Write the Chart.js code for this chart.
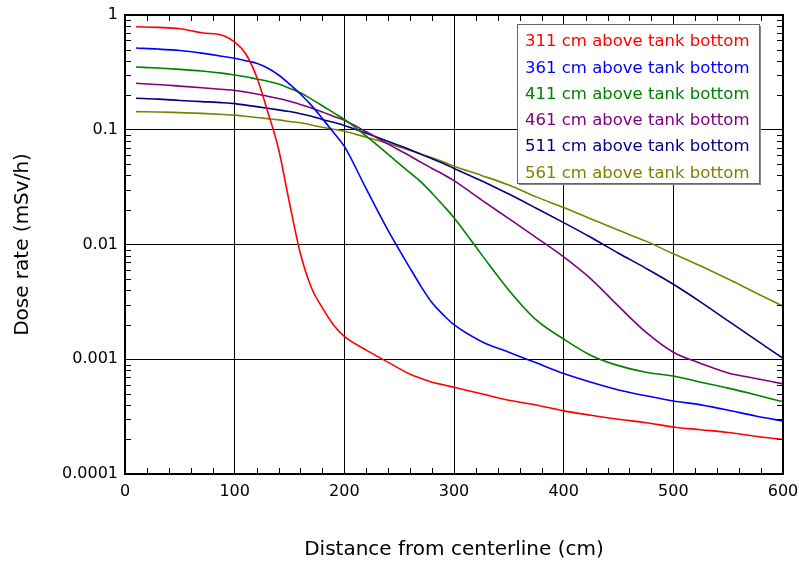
<!DOCTYPE html>
<html>
<head>
<meta charset="utf-8">
<script src="https://cdn.jsdelivr.net/npm/chart.js@4/dist/chart.umd.min.js"></script>
<style>
html,body{margin:0;padding:0;background:#fff;}
#wrap{width:799px;height:563px;}
</style>
</head>
<body>
<div id="wrap"><canvas id="c" width="799" height="563"></canvas></div>
<script>
const FONT = "'DejaVu Sans', sans-serif";
const distances = [10,30,50,70,90,100,110,120,130,140,150,160,170,180,190,200,220,240,260,270,280,290,300,325,350,375,400,425,450,475,500,525,550,575,600];
const seriesLabels = ["311 cm above tank bottom","361 cm above tank bottom","411 cm above tank bottom","461 cm above tank bottom","511 cm above tank bottom","561 cm above tank bottom"];
const seriesColors = ["#ff0000","#0000ff","#008000","#800080","#000080","#808000"];
const dose311 = [0.79,0.78,0.76,0.70,0.66,0.58,0.46,0.29,0.145,0.068,0.023,0.0083,0.0042,0.0028,0.002,0.00158,0.0012,0.00094,0.00074,0.00068,0.00063,0.0006,0.00057,0.0005,0.00044,0.0004,0.000355,0.000325,0.0003,0.00028,0.000257,0.000243,0.00023,0.000213,0.0002];
const dose361 = [0.515,0.505,0.49,0.465,0.435,0.42,0.40,0.38,0.345,0.30,0.25,0.205,0.163,0.125,0.095,0.0716,0.0305,0.0132,0.0062,0.0043,0.0031,0.00245,0.002,0.00143,0.00115,0.00093,0.00075,0.00063,0.00054,0.00048,0.000433,0.0004,0.00036,0.00032,0.00029];
const dose411 = [0.352,0.345,0.336,0.325,0.31,0.30,0.29,0.277,0.265,0.25,0.23,0.21,0.185,0.162,0.141,0.123,0.088,0.061,0.042,0.035,0.028,0.022,0.0171,0.0082,0.004,0.0022,0.0015,0.00108,0.00088,0.00077,0.000714,0.00063,0.00056,0.00049,0.000426];
const dose461 = [0.254,0.248,0.24,0.232,0.224,0.22,0.213,0.205,0.196,0.187,0.177,0.166,0.155,0.143,0.131,0.121,0.096,0.075,0.059,0.052,0.046,0.041,0.036,0.0245,0.0168,0.0115,0.0078,0.005,0.0029,0.00172,0.00115,0.00092,0.00076,0.00068,0.00061];
const dose511 = [0.188,0.185,0.18,0.176,0.172,0.169,0.164,0.159,0.154,0.149,0.144,0.138,0.131,0.123,0.116,0.109,0.093,0.079,0.067,0.061,0.056,0.051,0.046,0.036,0.0275,0.0207,0.0155,0.0115,0.0084,0.0062,0.0045,0.00315,0.00216,0.00148,0.00102];
const dose561 = [0.144,0.143,0.141,0.139,0.136,0.134,0.131,0.128,0.125,0.122,0.118,0.115,0.11,0.105,0.101,0.097,0.086,0.076,0.066,0.0615,0.057,0.0525,0.048,0.04,0.033,0.026,0.021,0.0167,0.0133,0.0107,0.0083,0.0065,0.005,0.0038,0.0029];
const yTickValues = [0.0001,0.001,0.01,0.1,1];
const yTickLabels = ["0.0001","0.001","0.01","0.1","1"];
const xTickValues = [0,100,200,300,400,500,600];
const allSeries = [dose311,dose361,dose411,dose461,dose511,dose561];

const datasets = allSeries.map((s,i)=>({
  label: seriesLabels[i],
  data: distances.map((d,j)=>({x:d,y:s[j]})),
  borderColor: seriesColors[i],
  backgroundColor: seriesColors[i],
  borderWidth: 1.6,
  pointRadius: 0,
  cubicInterpolationMode: 'monotone',
  fill: false
}));

const framePlugin = {
  id:'frame',
  afterDraw(chart){
    const {ctx, chartArea:a, scales:{x,y}} = chart;
    ctx.save();
    ctx.strokeStyle = '#000';
    ctx.lineWidth = 1;
    for(let v=0; v<=600; v+=20){
      if(v%100===0) continue;
      const px = Math.round(x.getPixelForValue(v))+0.5;
      ctx.beginPath();
      ctx.moveTo(px,a.bottom); ctx.lineTo(px,a.bottom-6);
      ctx.moveTo(px,a.top); ctx.lineTo(px,a.top+6);
      ctx.stroke();
    }
    for(let e=-4;e<0;e++){
      for(let m=2;m<=9;m++){
        const py = Math.round(y.getPixelForValue(m*Math.pow(10,e)))+0.5;
        ctx.beginPath();
        ctx.moveTo(a.left,py); ctx.lineTo(a.left+6,py);
        ctx.moveTo(a.right,py); ctx.lineTo(a.right-6,py);
        ctx.stroke();
      }
    }
    ctx.lineWidth = 2;
    ctx.strokeRect(a.left, a.top, a.right-a.left, a.bottom-a.top);
    // legend box
    const lx=517, ly=24, lw=242, lh=159;
    ctx.fillStyle='#888';
    ctx.fillRect(lx+2, ly+2, lw, lh);
    ctx.fillStyle='#fff';
    ctx.fillRect(lx, ly, lw, lh);
    ctx.lineWidth=1;
    ctx.strokeStyle='#666';
    ctx.strokeRect(lx+0.5, ly+0.5, lw, lh);
    ctx.font = "16.5px " + FONT;
    ctx.textBaseline='middle';
    ctx.textAlign='left';
    chart.data.datasets.forEach((ds,i)=>{
      ctx.fillStyle = ds.borderColor;
      ctx.fillText(ds.label, 525, 42 + i*26.3);
    });
    ctx.restore();
  }
};

new Chart(document.getElementById('c'), {
  type:'line',
  data:{datasets},
  options:{
    responsive:false,
    animation:false,
    devicePixelRatio:1,
    layout:{padding:{left:0,right:16,top:15,bottom:0}},
    plugins:{legend:{display:false}, tooltip:{enabled:false}},
    scales:{
      x:{
        type:'linear', min:0, max:600,
        afterBuildTicks(s){ s.ticks = xTickValues.map(v=>({value:v})); },
        afterFit(s){ s.height = 89; s.paddingLeft = 0; s.paddingRight = 0; },
        ticks:{color:'#000', font:{family:FONT,size:16}, padding:8, maxRotation:0},
        grid:{color:'#000', lineWidth:1, drawTicks:false},
        border:{display:false},
        title:{display:true, text:'Distance from centerline (cm)', color:'#000', font:{family:FONT,size:20}, padding:{top:0,bottom:1}}
      },
      y:{
        type:'logarithmic', min:0.0001, max:1,
        afterBuildTicks(s){ s.ticks = yTickValues.map(v=>({value:v})); },
        afterFit(s){ s.width = 125; s.paddingTop = 0; s.paddingBottom = 0; },
        ticks:{color:'#000', font:{family:FONT,size:16}, padding:7,
          callback(v){ const i = yTickValues.findIndex(t=>Math.abs(t-v)/t<1e-6); return i>=0?yTickLabels[i]:''; }},
        grid:{color:'#000', lineWidth:1, drawTicks:false},
        border:{display:false},
        title:{display:true, text:'Dose rate (mSv/h)', color:'#000', font:{family:FONT,size:20}, padding:{top:11,bottom:0}}
      }
    }
  },
  plugins:[framePlugin]
});
</script>
</body>
</html>
